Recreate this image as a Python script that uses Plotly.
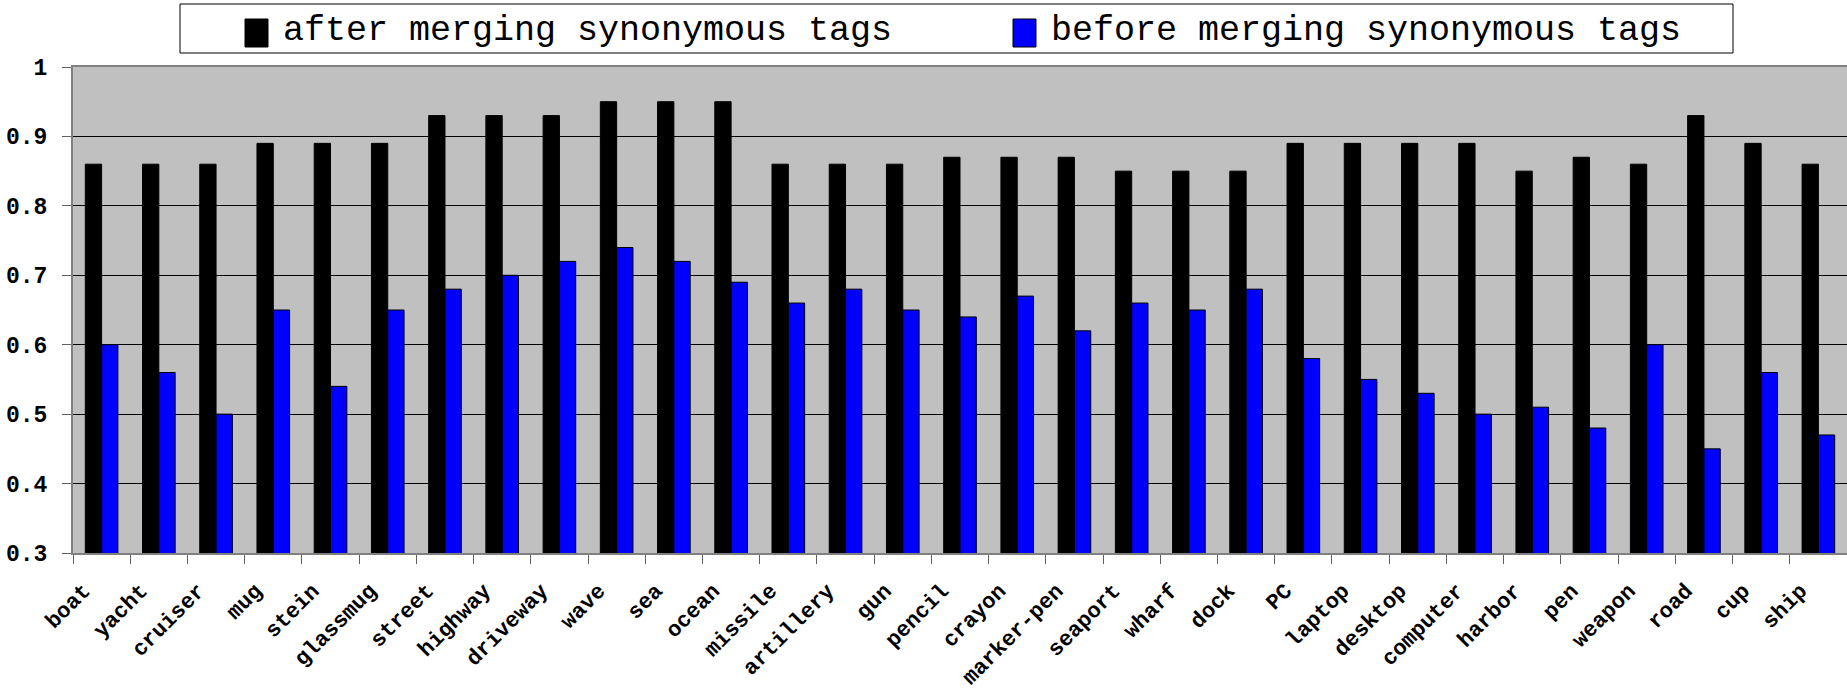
import plotly.graph_objects as go

# Tags and the precision measured for each, before and after synonym merging
categories = [
    "boat", "yacht", "cruiser", "mug", "stein", "glassmug", "street", "highway",
    "driveway", "wave", "sea", "ocean", "missile", "artillery", "gun", "pencil",
    "crayon", "marker-pen", "seaport", "wharf", "dock", "PC", "laptop", "desktop",
    "computer", "harbor", "pen", "weapon", "road", "cup", "ship",
]
after_merging = [
    0.86, 0.86, 0.86, 0.89, 0.89, 0.89, 0.93, 0.93,
    0.93, 0.95, 0.95, 0.95, 0.86, 0.86, 0.86, 0.87,
    0.87, 0.87, 0.85, 0.85, 0.85, 0.89, 0.89, 0.89,
    0.89, 0.85, 0.87, 0.86, 0.93, 0.89, 0.86,
]
before_merging = [
    0.60, 0.56, 0.50, 0.65, 0.54, 0.65, 0.68, 0.70,
    0.72, 0.74, 0.72, 0.69, 0.66, 0.68, 0.65, 0.64,
    0.67, 0.62, 0.66, 0.65, 0.68, 0.58, 0.55, 0.53,
    0.50, 0.51, 0.48, 0.60, 0.45, 0.56, 0.47,
]
series_names = ["after merging synonymous tags", "before merging synonymous tags"]
series_colors = ["#000000", "#0000FF"]
y_ticks = [0.3, 0.4, 0.5, 0.6, 0.7, 0.8, 0.9, 1.0]

W, H = 1847, 690
ML, MR, MT, MB = 73, 0, 67, 137
MONO = "Liberation Mono, Courier New, monospace"


def px_x(p):
    return (p - ML) / (W - ML - MR)


def px_y(p):
    return (H - MB - p) / (H - MT - MB)


fig = go.Figure()
for name, vals, col in zip(series_names, [after_merging, before_merging], series_colors):
    fig.add_bar(
        x=categories, y=vals, name=name,
        marker=dict(color=col, line=dict(color="#000000", width=1)),
        showlegend=False,
    )

# Boxed legend across the top
shapes = [
    dict(type="rect", xref="paper", yref="paper",
         x0=px_x(180), x1=px_x(1733), y0=px_y(53), y1=px_y(4),
         line=dict(color="#000000", width=1), fillcolor="#FFFFFF", layer="above"),
]
annotations = []
for name, col, sq_x, txt_x in zip(series_names, series_colors, [245, 1013], [281, 1049]):
    shapes.append(dict(type="rect", xref="paper", yref="paper",
                       x0=px_x(sq_x), x1=px_x(sq_x + 23), y0=px_y(47), y1=px_y(19),
                       line=dict(color="#000000", width=1), fillcolor=col, layer="above"))
    annotations.append(dict(text=name, xref="paper", yref="paper",
                            x=px_x(txt_x), y=px_y(31), xanchor="left", yanchor="middle",
                            showarrow=False, font=dict(family=MONO, size=35, color="#000000")))

fig.update_layout(
    width=W, height=H,
    margin=dict(l=ML, r=MR, t=MT, b=MB, pad=0, autoexpand=False),
    paper_bgcolor="#FFFFFF",
    plot_bgcolor="#C0C0C0",
    barmode="group",
    bargap=0.43,
    bargroupgap=0,
    shapes=shapes,
    annotations=annotations,
    font=dict(family=MONO, color="#000000"),
)
fig.update_xaxes(
    type="category",
    automargin=False,
    tickson="boundaries",
    ticks="outside", ticklen=9, tickcolor="#606060", tickwidth=1,
    showline=True, linecolor="#808080", linewidth=2, mirror=True,
    showgrid=False,
    tickangle=-45,
    tickfont=dict(family=MONO, size=22, color="#000000", weight="bold"),
    ticklabelshift=-18, ticklabelstandoff=14,
)
fig.update_yaxes(
    automargin=False,
    range=[0.3, 1.0],
    tickvals=y_ticks,
    ticks="outside", ticklen=9, tickcolor="#606060", tickwidth=1,
    showline=True, linecolor="#808080", linewidth=2,
    showgrid=True, gridcolor="#000000", gridwidth=1,
    zeroline=False,
    tickfont=dict(family=MONO, size=23, color="#000000", weight="bold"),
    ticklabelstandoff=10,
)

fig.write_html("out.html")
